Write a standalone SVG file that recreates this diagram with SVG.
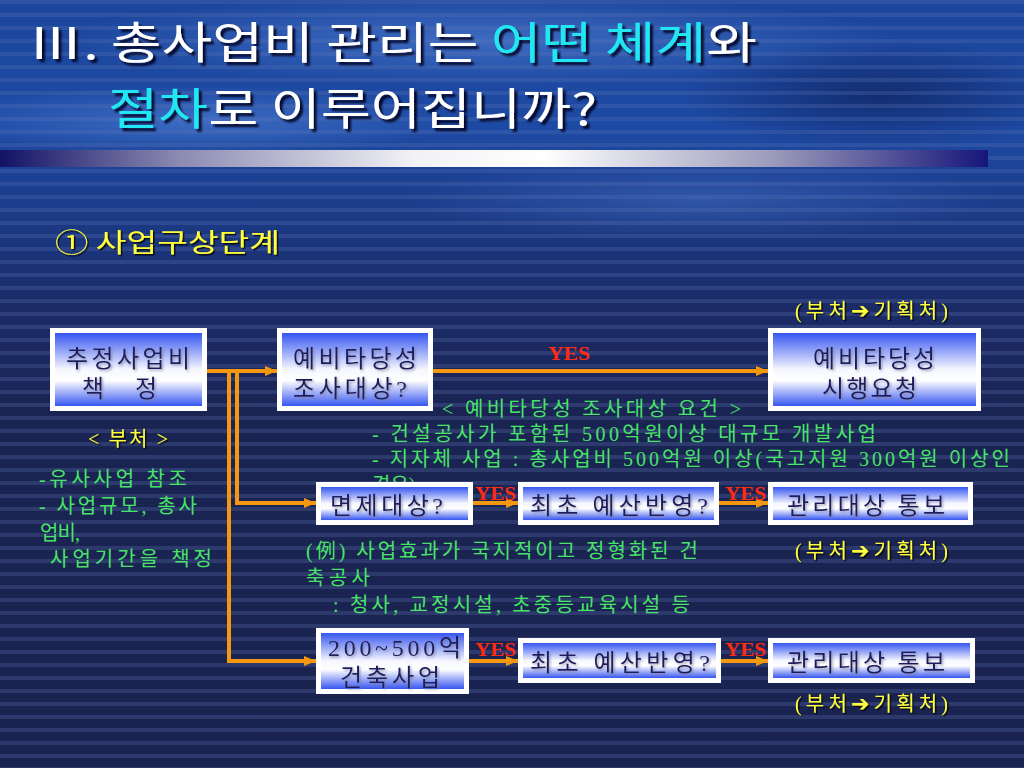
<svg xmlns="http://www.w3.org/2000/svg" width="1024" height="768" viewBox="0 0 1024 768">
<defs>
<style>
.title{font-family:"Noto Sans CJK KR","Liberation Sans",sans-serif;font-size:44px;fill:#ffffff;filter:url(#tshadow)}
.cyan{fill:#22e6f2}
.box-outer{fill:#ffffff}
.box-inner{fill:url(#boxgrad)}
.bt{font-family:"Liberation Serif","Noto Sans CJK KR",serif;font-size:24px;fill:#1c1c5e;filter:url(#bshadow)}
.grn{font-family:"Liberation Serif","Noto Sans CJK KR",serif;font-size:20px;fill:#48e468}
.yel{font-family:"Liberation Serif","Noto Sans CJK KR",serif;font-size:20px;fill:#ffff3a;filter:url(#lshadow)}
.yes{font-family:"Liberation Serif",serif;font-size:19px;font-weight:bold;fill:#ff2a12}
.conn{fill:none;stroke:#f5980f;stroke-width:4}
</style>
<linearGradient id="bg" x1="0" y1="0" x2="0" y2="1">
<stop offset="0" stop-color="#1c469c"/>
<stop offset="0.17" stop-color="#1d4aa4"/>
<stop offset="0.28" stop-color="#1b3a86"/>
<stop offset="0.4" stop-color="#1b2b66"/>
<stop offset="0.55" stop-color="#1a2452"/>
<stop offset="1" stop-color="#1a2350"/>
</linearGradient>
<linearGradient id="bar" x1="0" y1="0" x2="1" y2="0">
<stop offset="0" stop-color="#121266"/>
<stop offset="0.18" stop-color="#8a8ab2"/>
<stop offset="0.42" stop-color="#f2f2f6"/>
<stop offset="0.55" stop-color="#ffffff"/>
<stop offset="0.78" stop-color="#9c9cbc"/>
<stop offset="1" stop-color="#16167a"/>
</linearGradient>
<linearGradient id="boxgrad" x1="0" y1="0" x2="0" y2="1">
<stop offset="0" stop-color="#3656f0"/>
<stop offset="0.5" stop-color="#f6f7ff"/>
<stop offset="0.65" stop-color="#ffffff"/>
<stop offset="1" stop-color="#3656f0"/>
</linearGradient>
<pattern id="stripes" width="40" height="13" patternUnits="userSpaceOnUse">
<rect x="0" y="0" width="40" height="4" fill="#5e74b4" opacity="0.28"/>
</pattern>
<radialGradient id="glow" cx="0.5" cy="0.5" r="0.5">
<stop offset="0" stop-color="#5a8ae0" stop-opacity="0.55"/>
<stop offset="1" stop-color="#5a8ae0" stop-opacity="0"/>
</radialGradient>
<radialGradient id="dark" cx="0.5" cy="0.5" r="0.5">
<stop offset="0" stop-color="#0c1a50" stop-opacity="0.6"/>
<stop offset="1" stop-color="#0c1a50" stop-opacity="0"/>
</radialGradient>
<filter id="tshadow" x="-5%" y="-20%" width="110%" height="150%">
<feDropShadow dx="3" dy="3" stdDeviation="1.2" flood-color="#00001a" flood-opacity="0.9"/>
</filter>
<filter id="lshadow" x="-5%" y="-20%" width="110%" height="150%">
<feDropShadow dx="1.5" dy="1.5" stdDeviation="0.6" flood-color="#000000" flood-opacity="0.8"/>
</filter>
<filter id="bshadow" x="-5%" y="-20%" width="110%" height="150%">
<feDropShadow dx="1.5" dy="1.5" stdDeviation="0.8" flood-color="#7a7a9a" flood-opacity="0.7"/>
</filter>
<marker id="arr" markerUnits="userSpaceOnUse" markerWidth="12" markerHeight="10" refX="12" refY="5" orient="auto">
<path d="M0,0 L12,5 L0,10 z" fill="#f5980f"/>
</marker>
</defs>

<!-- background -->
<rect x="0" y="0" width="1024" height="768" fill="url(#bg)"/>
<ellipse cx="480" cy="40" rx="420" ry="45" fill="url(#glow)"/>
<ellipse cx="200" cy="120" rx="260" ry="35" fill="url(#glow)"/>
<ellipse cx="880" cy="95" rx="200" ry="55" fill="url(#dark)"/>
<ellipse cx="700" cy="200" rx="300" ry="40" fill="url(#glow)" opacity="0.6"/>
<rect x="0" y="0" width="1024" height="768" fill="url(#stripes)"/>

<!-- title -->
<g id="title">
<text class="title" x="28" y="59" textLength="729" lengthAdjust="spacingAndGlyphs">Ⅲ. 총사업비 관리는 <tspan class="cyan">어떤 체계</tspan>와</text>
<text class="title" x="108" y="125" textLength="489" lengthAdjust="spacingAndGlyphs"><tspan class="cyan">절차</tspan>로 이루어집니까?</text>
</g>
<rect id="title-bar" x="0" y="150" width="988" height="17" fill="url(#bar)"/>

<text x="55" y="252" font-family="'Noto Sans CJK KR','Liberation Sans',sans-serif" font-size="26" fill="#ffff3a" filter="url(#lshadow)" textLength="225" lengthAdjust="spacingAndGlyphs">① 사업구상단계</text>

<!-- background text covered by node -->
<text class="grn" x="372" y="492">경우)</text>

<!-- connectors -->
<g id="connectors">
<path class="conn" d="M207,371 H277" marker-end="url(#arr)"/>
<path class="conn" d="M229,371 V661 H316" marker-end="url(#arr)"/>
<path class="conn" d="M237,371 V503 H316" marker-end="url(#arr)"/>
<path class="conn" d="M433,371 H768" marker-end="url(#arr)"/>
<path class="conn" d="M473,503 H518" marker-end="url(#arr)"/>
<path class="conn" d="M719,503 H768" marker-end="url(#arr)"/>
<path class="conn" d="M469,661 H518" marker-end="url(#arr)"/>
<path class="conn" d="M721,661 H768" marker-end="url(#arr)"/>
<text class="yes" x="548" y="360" textLength="42" lengthAdjust="spacingAndGlyphs">YES</text>
<text class="yes" x="475" y="500" textLength="41" lengthAdjust="spacingAndGlyphs">YES</text>
<text class="yes" x="725" y="500" textLength="41" lengthAdjust="spacingAndGlyphs">YES</text>
<text class="yes" x="475" y="656" textLength="41" lengthAdjust="spacingAndGlyphs">YES</text>
<text class="yes" x="725" y="656" textLength="41" lengthAdjust="spacingAndGlyphs">YES</text>
</g>

<!-- nodes -->
<g id="node-estimate">
<rect class="box-outer" x="50" y="328" width="157" height="83"/>
<rect class="box-inner" x="55" y="333" width="147" height="73"/>
<text class="bt" x="66" y="367" textLength="124" lengthAdjust="spacing">추정사업비</text>
<text class="bt" x="82" y="397" textLength="75" lengthAdjust="spacing">책 정</text>
</g>
<g id="node-prelim-target">
<rect class="box-outer" x="277" y="328" width="156" height="83"/>
<rect class="box-inner" x="282" y="333" width="146" height="73"/>
<text class="bt" x="293" y="367" textLength="124" lengthAdjust="spacing">예비타당성</text>
<text class="bt" x="293" y="397" textLength="114" lengthAdjust="spacing">조사대상?</text>
</g>
<g id="node-prelim-request">
<rect class="box-outer" x="768" y="328" width="213" height="83"/>
<rect class="box-inner" x="773" y="333" width="203" height="73"/>
<text class="bt" x="813" y="367" textLength="122" lengthAdjust="spacing">예비타당성</text>
<text class="bt" x="822" y="397" textLength="95" lengthAdjust="spacing">시행요청</text>
</g>
<g id="node-exempt">
<rect class="box-outer" x="316" y="482" width="157" height="43"/>
<rect class="box-inner" x="321" y="487" width="147" height="33"/>
<text class="bt" x="330" y="514" textLength="113" lengthAdjust="spacing">면제대상?</text>
</g>
<g id="node-budget-1">
<rect class="box-outer" x="518" y="482" width="201" height="43"/>
<rect class="box-inner" x="523" y="487" width="191" height="33"/>
<text class="bt" x="530" y="514" textLength="178" lengthAdjust="spacing">최초 예산반영?</text>
</g>
<g id="node-notify-1">
<rect class="box-outer" x="768" y="482" width="205" height="43"/>
<rect class="box-inner" x="773" y="487" width="195" height="33"/>
<text class="bt" x="787" y="514" textLength="158" lengthAdjust="spacing">관리대상 통보</text>
</g>
<g id="node-building">
<rect class="box-outer" x="316" y="628" width="153" height="66"/>
<rect class="box-inner" x="321" y="633" width="143" height="56"/>
<text class="bt" x="328" y="656" textLength="133" lengthAdjust="spacing">200~500억</text>
<text class="bt" x="340" y="686" textLength="100" lengthAdjust="spacing">건축사업</text>
</g>
<g id="node-budget-2">
<rect class="box-outer" x="518" y="638" width="203" height="45"/>
<rect class="box-inner" x="523" y="643" width="193" height="35"/>
<text class="bt" x="530" y="671" textLength="180" lengthAdjust="spacing">최초 예산반영?</text>
</g>
<g id="node-notify-2">
<rect class="box-outer" x="768" y="638" width="207" height="45"/>
<rect class="box-inner" x="773" y="643" width="197" height="35"/>
<text class="bt" x="787" y="671" textLength="158" lengthAdjust="spacing">관리대상 통보</text>
</g>

<!-- annotations -->
<g id="labels">
<text class="yel" x="795" y="318" textLength="153" lengthAdjust="spacing">(부처<tspan font-family="'DejaVu Sans',sans-serif" font-weight="bold" font-size="22">➔</tspan>기획처)</text>
<text class="yel" x="795" y="558" textLength="153" lengthAdjust="spacing">(부처<tspan font-family="'DejaVu Sans',sans-serif" font-weight="bold" font-size="22">➔</tspan>기획처)</text>
<text class="yel" x="795" y="711" textLength="153" lengthAdjust="spacing">(부처<tspan font-family="'DejaVu Sans',sans-serif" font-weight="bold" font-size="22">➔</tspan>기획처)</text>
<text class="yel" x="88" y="446" textLength="80" lengthAdjust="spacing">&lt; 부처 &gt;</text>

<text class="grn" x="39" y="486" textLength="148" lengthAdjust="spacing">-유사사업 참조</text>
<text class="grn" x="39" y="513" textLength="158" lengthAdjust="spacing">- 사업규모, 총사</text>
<text class="grn" x="40" y="540" textLength="40" lengthAdjust="spacing">업비,</text>
<text class="grn" x="50" y="566" textLength="162" lengthAdjust="spacing">사업기간을 책정</text>

<text class="grn" x="442" y="416" textLength="299" lengthAdjust="spacing">&lt; 예비타당성 조사대상 요건 &gt;</text>
<text class="grn" x="372" y="441" textLength="504" lengthAdjust="spacing">- 건설공사가 포함된 500억원이상 대규모 개발사업</text>
<text class="grn" x="372" y="466" textLength="638" lengthAdjust="spacing">- 지자체 사업 : 총사업비 500억원 이상(국고지원 300억원 이상인</text>

<text class="grn" x="306" y="558" textLength="392" lengthAdjust="spacing">(例) 사업효과가 국지적이고 정형화된 건</text>
<text class="grn" x="306" y="585" textLength="64" lengthAdjust="spacing">축공사</text>
<text class="grn" x="333" y="612" textLength="357" lengthAdjust="spacing">: 청사, 교정시설, 초중등교육시설 등</text>
</g>
</svg>
